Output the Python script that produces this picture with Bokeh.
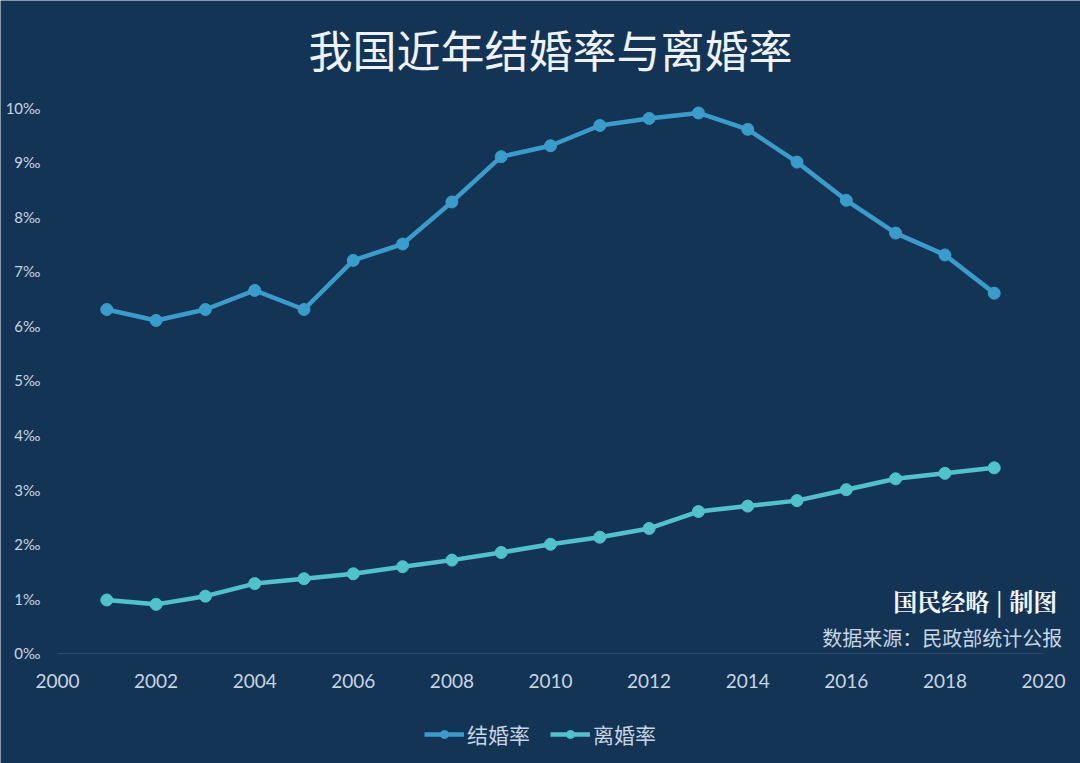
from bokeh.plotting import figure
from bokeh.models import (Range1d, FixedTicker, PrintfTickFormatter, Legend, LegendItem,
                          Label, ColumnDataSource)
from bokeh.embed import file_html
from bokeh.resources import INLINE

years = list(range(2001, 2020))
marriage = [6.3, 6.1, 6.3, 6.65, 6.3, 7.2, 7.5, 8.27, 9.1, 9.3, 9.67, 9.8, 9.9, 9.6, 9.0, 8.3, 7.7, 7.3, 6.6]
divorce = [0.98, 0.9, 1.05, 1.28, 1.37, 1.46, 1.59, 1.71, 1.85, 2.0, 2.13, 2.29, 2.6, 2.7, 2.8, 3.0, 3.2, 3.3, 3.4]
series_names = ["结婚率", "离婚率"]
x_ticks = list(range(2000, 2021, 2))
y_ticks = list(range(0, 11))
title_text = "我国近年结婚率与离婚率"
credit_text = "国民经略 | 制图"
source_text = "数据来源：民政部统计公报"

BG = "#143456"
TXT = "#c8d5e2"
C1 = "#3a9ccb"
C2 = "#4fc3c9"

src = ColumnDataSource(dict(year=years, m=marriage, d=divorce))

p = figure(width=1080, height=763, output_backend="svg", toolbar_location=None,
           x_range=Range1d(1998.844, 2020.75), y_range=Range1d(-2.015, 11.96),
           background_fill_color=BG, border_fill_color=BG,
           min_border_left=0, min_border_right=0, min_border_bottom=0, min_border_top=0)
p.outline_line_color = None

# baseline at 0
p.segment(x0=[x_ticks[0]], x1=[x_ticks[-1]], y0=[y_ticks[0]], y1=[y_ticks[0]],
          line_color="#2c4d6e", line_width=1)

l1 = p.line("year", "m", source=src, line_color=C1, line_width=4.5)
s1 = p.scatter("year", "m", source=src, size=12, fill_color=C1, line_color=C1)
l2 = p.line("year", "d", source=src, line_color=C2, line_width=4.5)
s2 = p.scatter("year", "d", source=src, size=12, fill_color=C2, line_color=C2)

p.xaxis.fixed_location = 0
p.yaxis.fixed_location = 2000
p.xaxis.ticker = FixedTicker(ticks=x_ticks)
p.yaxis.ticker = FixedTicker(ticks=y_ticks)
p.yaxis.formatter = PrintfTickFormatter(format="%d‰")
for ax in (p.xaxis, p.yaxis):
    ax.axis_line_color = None
    ax.major_tick_line_color = None
    ax.minor_tick_line_color = None
    ax.major_label_text_color = TXT
    ax.major_label_text_font = "Lato"
p.xaxis.major_label_text_font_size = "19px"
p.yaxis.major_label_text_font_size = "15px"
p.xaxis.major_label_standoff = 15
p.yaxis.major_label_standoff = 11

p.xgrid.grid_line_color = None
p.ygrid.grid_line_color = None

legend = Legend(items=[LegendItem(label=series_names[0], renderers=[l1, s1]),
                       LegendItem(label=series_names[1], renderers=[l2, s2])],
                orientation="horizontal", location=(424, 14),
                background_fill_alpha=0, border_line_color=None,
                label_text_color=TXT, label_text_font="Noto Sans CJK SC",
                label_text_font_size="21px", glyph_width=40, spacing=20,
                margin=0, padding=4, label_standoff=3)
p.add_layout(legend)

p.add_layout(Label(x=2010, y=11.08, text=title_text, text_align="center",
                   text_baseline="middle", text_color="#eef2f6",
                   text_font="Noto Sans CJK SC", text_font_size="44px"))
p.add_layout(Label(x=2020.28, y=0.97, text=credit_text, text_align="right",
                   text_baseline="middle", text_color="#f2f4f6",
                   text_font="Noto Serif CJK SC", text_font_style="bold",
                   text_font_size="24px"))
p.add_layout(Label(x=2020.38, y=0.29, text=source_text, text_align="right",
                   text_baseline="middle", text_color=TXT,
                   text_font="Noto Sans CJK SC", text_font_size="20px"))

open("out.html", "w").write(file_html(p, INLINE))
